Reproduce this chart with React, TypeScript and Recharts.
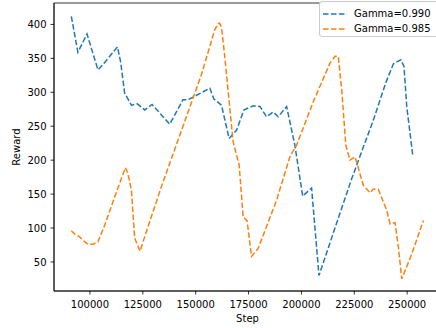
import React from 'react';
import { LineChart, Line, XAxis, YAxis, ReferenceArea } from 'recharts';

// Gamma=0.990 run
const gamma990Steps = [
  91200, 94300, 98600, 103800, 106200, 113000, 114500, 116400, 119600, 122400,
  125900, 129400, 137700, 144000, 146400, 156700, 158600, 162200, 165800, 169300,
  172800, 177200, 180400, 183500, 186700, 189000, 193000, 196900, 200600, 204800,
  208300, 215000, 223800, 234000, 240000, 243500, 247000, 248500, 249800, 252650,
];
const gamma990Reward = [
  412, 359, 386, 333, 341, 367, 345, 299, 281, 283,
  274, 282, 253, 289, 289, 306, 290, 281, 232, 244,
  274, 280, 279, 264, 271, 264, 279, 222, 147, 159,
  30, 92, 173, 259, 315, 342, 348, 338, 279, 207,
];

// Gamma=0.985 run
const gamma985Steps = [
  91200, 92750, 95100, 97500, 99050, 101400, 103800, 106950, 111700, 116750,
  118000, 119600, 121150, 123700, 127450, 133800, 141700, 152700, 159000, 160600,
  161200, 162200, 163500, 164300, 167700, 170550, 172450, 174300, 176400, 179550,
  188250, 194550, 197700, 205600, 213500, 215900, 217400, 219000, 221000, 222950,
  225350, 229250, 232450, 234000, 236350, 240350, 241900, 244250, 245850, 247450,
  252200, 257700,
];
const gamma985Reward = [
  96, 91, 87, 80, 76, 76, 80, 104, 146, 189,
  180, 156, 85, 66, 102, 161, 230, 326, 392, 401,
  402, 396, 360, 335, 227, 193, 116, 111, 58, 70,
  141, 205, 222, 286, 343, 353, 353, 306, 222, 200,
  205, 163, 152, 157, 157, 126, 106, 108, 72, 25,
  62, 111,
];

const xTicks = [100000, 125000, 150000, 175000, 200000, 225000, 250000];
const yTicks = [50, 100, 150, 200, 250, 300, 350, 400];

const X_DOMAIN: [number, number] = [83000, 266000];
const Y_DOMAIN: [number, number] = [7.2, 431.6];

const BLUE = '#1f77b4';
const ORANGE = '#ff7f0e';
const FONT = 'DejaVu Sans, sans-serif';

const toPoints = (steps: number[], rewards: number[]) =>
  steps.map((step, i) => ({ step, reward: rewards[i] }));

const series = [
  { name: 'Gamma=0.990', color: BLUE, data: toPoints(gamma990Steps, gamma990Reward) },
  { name: 'Gamma=0.985', color: ORANGE, data: toPoints(gamma985Steps, gamma985Reward) },
];

const tickStyle = { fontSize: 10, fill: '#000', fontFamily: FONT };

export default function App() {
  return (
    <div
      style={{
        position: 'fixed',
        left: 0,
        top: 0,
        width: 436,
        height: 328,
        overflow: 'hidden',
        background: '#fff',
        fontFamily: FONT,
      }}
    >
      <LineChart width={446} height={328} margin={{ top: 3, right: 5, bottom: 0, left: 0 }}>
        <XAxis
          dataKey="step"
          type="number"
          domain={X_DOMAIN}
          ticks={xTicks}
          allowDataOverflow
          height={37}
          tick={tickStyle}
          tickSize={3.5}
          tickMargin={6}
          axisLine={{ stroke: '#000', strokeWidth: 0.8 }}
          tickLine={{ stroke: '#000', strokeWidth: 0.8 }}
          label={{ value: 'Step', position: 'insideBottom', offset: 6.5, fill: '#000', fontSize: 10, fontFamily: FONT }}
        />
        <YAxis
          type="number"
          domain={Y_DOMAIN}
          ticks={yTicks}
          allowDataOverflow
          width={54}
          tick={tickStyle}
          tickSize={3.5}
          tickMargin={4}
          axisLine={{ stroke: '#000', strokeWidth: 0.8 }}
          tickLine={{ stroke: '#000', strokeWidth: 0.8 }}
          label={{
            value: 'Reward',
            angle: -90,
            position: 'insideLeft',
            offset: 16,
            fill: '#000',
            fontSize: 10,
            fontFamily: FONT,
            style: { textAnchor: 'middle' },
          }}
        />
        <ReferenceArea
          x1={X_DOMAIN[0]}
          x2={X_DOMAIN[1]}
          y1={Y_DOMAIN[0]}
          y2={Y_DOMAIN[1]}
          fill="none"
          stroke="#000"
          strokeWidth={0.8}
          ifOverflow="visible"
        />
        {series.map((s) => (
          <Line
            key={s.name}
            name={s.name}
            data={s.data}
            dataKey="reward"
            type="linear"
            stroke={s.color}
            strokeWidth={1.5}
            strokeDasharray="5.55 2.4"
            dot={false}
            activeDot={false}
            isAnimationActive={false}
          />
        ))}
      </LineChart>

      {/* legend box, upper right, runs off the edge like the original */}
      <div
        style={{
          position: 'absolute',
          left: 319,
          top: 1,
          width: 130,
          height: 36,
          border: '1px solid #cccccc',
          borderRadius: 3,
          background: 'rgba(255,255,255,0.95)',
          boxSizing: 'border-box',
        }}
      >
        {series.map((s, i) => (
          <div
            key={s.name}
            style={{
              position: 'absolute',
              left: 3,
              top: 4 + i * 15,
              height: 15,
              display: 'flex',
              alignItems: 'center',
              whiteSpace: 'nowrap',
            }}
          >
            <svg width={24} height={4} style={{ display: 'block' }}>
              <line x1={0} y1={2} x2={24} y2={2} stroke={s.color} strokeWidth={1.5} strokeDasharray="5.55 2.4" />
            </svg>
            <span style={{ fontSize: 10, color: '#000', marginLeft: 7, lineHeight: '15px' }}>{s.name}</span>
          </div>
        ))}
      </div>
    </div>
  );
}
